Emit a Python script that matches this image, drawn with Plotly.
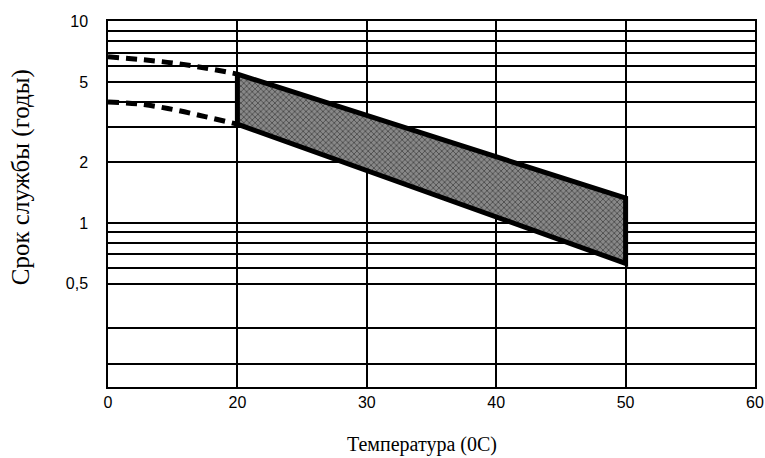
import numpy as np
import plotly.graph_objects as go

# ---- data ----
temp_ticks = [0, 20, 30, 40, 50, 60]          # x tick labels (evenly spaced on the chart)
temp_tick_text = ["0", "20", "30", "40", "50", "60"]

band_temp = [20, 50]                           # solid band (service life range)
band_upper = [5.5, 1.33]                       # years
band_lower = [3.1, 0.63]                       # years

extrap_temp = [0, 5, 10, 15, 20]               # dashed extrapolation below 20 C
extrap_upper = [6.7, 6.5, 6.25, 5.9, 5.5]
extrap_lower = [4.0, 3.9, 3.67, 3.38, 3.1]

y_tick_vals = [0.5, 1, 2, 5, 10]
y_tick_text = ["0,5", "1", "2", "5", "10"]
y_minor_vals = [0.2, 0.3, 0.6, 0.7, 0.8, 0.9, 3, 4, 6, 7, 8, 9]


def xpos(t):
    return np.interp(t, temp_ticks, np.arange(len(temp_ticks)))


fig = go.Figure()

# band polygon
bx = list(xpos(band_temp)) + list(xpos(band_temp[::-1])) + [xpos(band_temp[0])]
by = band_upper + band_lower[::-1] + [band_upper[0]]
fig.add_trace(go.Scatter(
    x=bx, y=by, mode="lines", fill="toself",
    fillcolor="#5f5f5f",
    fillpattern=dict(shape="x", fgcolor="#111111", bgcolor="#888888", size=4, solidity=0.4),
    line=dict(color="black", width=5), hoverinfo="skip", showlegend=False))

for ys in (extrap_upper, extrap_lower):
    fig.add_trace(go.Scatter(
        x=xpos(extrap_temp), y=ys, mode="lines",
        line=dict(color="black", width=5, dash="11px,7px", shape="spline"),
        hoverinfo="skip", showlegend=False))

tick_font = dict(family="Liberation Sans Narrow, Liberation Sans, Arial", size=16, color="black")

fig.update_layout(
    width=765, height=458,
    margin=dict(l=108, r=10, t=21, b=71),
    paper_bgcolor="white", plot_bgcolor="white",
    xaxis=dict(
        range=[0, 5], tickmode="array", automargin=False,
        tickvals=list(range(len(temp_ticks))), ticktext=temp_tick_text,
        showgrid=True, gridcolor="black", gridwidth=1.5,
        showline=True, linecolor="black", linewidth=1.5, mirror=True,
        ticks="", tickfont=tick_font, zeroline=False, ticklabelstandoff=0,
    ),
    yaxis=dict(
        type="log", range=[np.log10(0.153), np.log10(10.1)], automargin=False,
        tickmode="array", tickvals=y_tick_vals, ticktext=y_tick_text,
        showgrid=True, gridcolor="black", gridwidth=1.5,
        minor=dict(tickmode="array", tickvals=y_minor_vals, showgrid=True,
                   gridcolor="black", gridwidth=1.5, ticks=""),
        showline=True, linecolor="black", linewidth=1.5, mirror=True,
        ticks="", tickfont=tick_font, zeroline=False, ticklabelstandoff=15,
    ),
    annotations=[
        dict(text="Температура (0C)", xref="paper", yref="paper",
             x=0.485, y=-0.158, xanchor="center", yanchor="middle", showarrow=False,
             font=dict(family="Liberation Serif, Times New Roman, serif", size=20, color="black")),
        dict(text="Срок службы (годы)", xref="paper", yref="paper",
             x=-0.134, y=0.574, xanchor="center", yanchor="middle", showarrow=False,
             textangle=-90,
             font=dict(family="Liberation Serif, Times New Roman, serif", size=25, color="black")),
    ],
)

# remove the default 8px page margin so the figure sits at the window's top-left corner
fig.write_html("out.html",
               config={"displayModeBar": False},
               post_script="document.body.style.margin='0';document.body.style.overflow='hidden';")
